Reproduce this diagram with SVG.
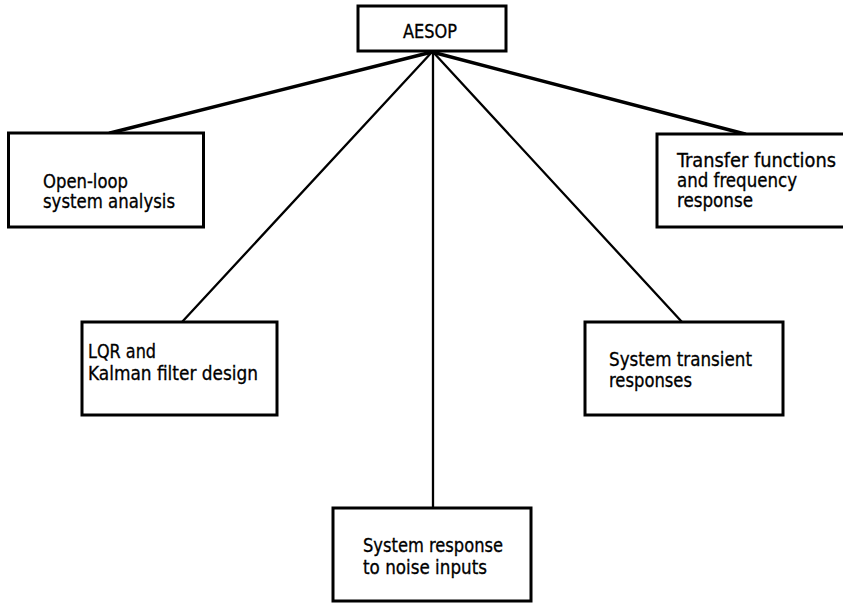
<svg xmlns="http://www.w3.org/2000/svg" width="843" height="604" viewBox="0 0 843 604">
<style>
.box{fill:#fff;stroke:#000;stroke-width:3}
.lbl{font-family:"DejaVu Sans Condensed","DejaVu Sans","Liberation Sans",sans-serif;font-stretch:condensed;font-size:19px;fill:#000;stroke:#000;stroke-width:0.3}
.thick{stroke:#000;stroke-width:3.4;fill:none;stroke-linecap:round}
.thin{stroke:#000;stroke-width:2.3;fill:none;stroke-linecap:round}
</style>
<rect width="843" height="604" fill="#fff"/>
<g id="connectors">
<line class="thick" x1="432" y1="52" x2="110" y2="133"/>
<line class="thick" x1="432" y1="52" x2="745" y2="134"/>
<line class="thin" x1="432" y1="52" x2="182" y2="322"/>
<line class="thin" x1="433" y1="52" x2="682" y2="322"/>
<line class="thin" x1="433" y1="52" x2="433" y2="508"/>
</g>
<g id="aesop">
<rect class="box" x="358" y="6" width="148" height="45"/>
<text class="lbl" x="403" y="38" textLength="54" lengthAdjust="spacingAndGlyphs">AESOP</text>
</g>
<g id="open-loop">
<rect class="box" x="8.5" y="133" width="195" height="94"/>
<text class="lbl" x="43" y="188" textLength="85" lengthAdjust="spacingAndGlyphs">Open-loop</text>
<text class="lbl" x="43" y="208" textLength="132" lengthAdjust="spacingAndGlyphs">system analysis</text>
</g>
<g id="transfer">
<rect class="box" x="657" y="134" width="200" height="93"/>
<text class="lbl" x="677" y="167" textLength="159" lengthAdjust="spacingAndGlyphs">Transfer functions</text>
<text class="lbl" x="677" y="187" textLength="120" lengthAdjust="spacingAndGlyphs">and frequency</text>
<text class="lbl" x="677" y="207" textLength="76" lengthAdjust="spacingAndGlyphs">response</text>
</g>
<g id="lqr">
<rect class="box" x="82" y="322" width="195" height="93"/>
<text class="lbl" x="88" y="358" textLength="68" lengthAdjust="spacingAndGlyphs">LQR and</text>
<text class="lbl" x="88" y="380" textLength="170" lengthAdjust="spacingAndGlyphs">Kalman filter design</text>
</g>
<g id="transient">
<rect class="box" x="585" y="322" width="198" height="93"/>
<text class="lbl" x="609" y="366" textLength="143" lengthAdjust="spacingAndGlyphs">System transient</text>
<text class="lbl" x="609" y="387" textLength="83" lengthAdjust="spacingAndGlyphs">responses</text>
</g>
<g id="noise">
<rect class="box" x="333" y="508" width="198" height="93"/>
<text class="lbl" x="363" y="552" textLength="140" lengthAdjust="spacingAndGlyphs">System response</text>
<text class="lbl" x="363" y="574" textLength="124" lengthAdjust="spacingAndGlyphs">to noise inputs</text>
</g>
</svg>
